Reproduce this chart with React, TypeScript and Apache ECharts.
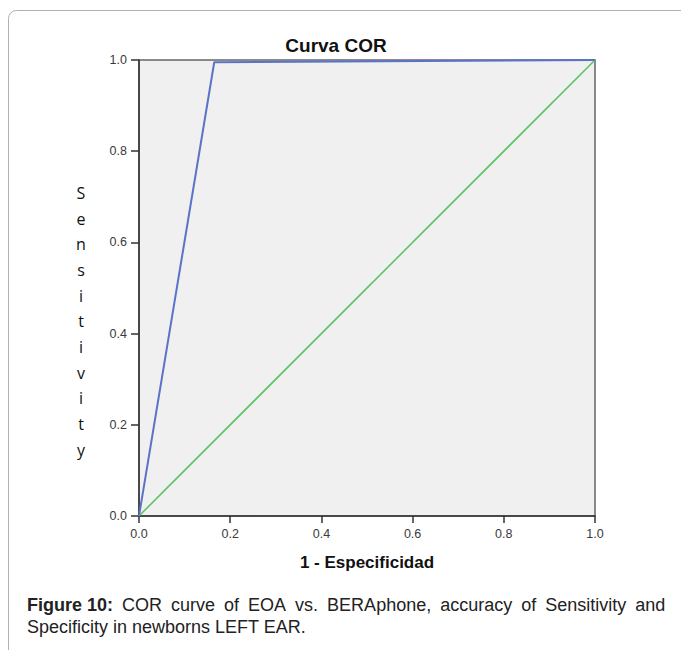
import React, { useEffect, useRef } from "react";
import * as echarts from "echarts";

const rocX = [0, 0.165, 1];
const rocY = [0, 0.995, 1];
const refX = [0, 1];
const refY = [0, 1];
const yTitleLetters = ["S", "e", "n", "s", "i", "t", "i", "v", "i", "t", "y"];
const chartTitle = "Curva COR";
const xTitle = "1 - Especificidad";
const captionBold = "Figure 10:";
const captionLine1Words = ["COR", "curve", "of", "EOA", "vs.", "BERAphone,", "accuracy", "of", "Sensitivity", "and"];
const captionLine2 = "Specificity in newborns LEFT EAR.";

function measure(text: string, font: string): number {
  const c = document.createElement("canvas");
  const ctx = c.getContext("2d");
  if (!ctx) return text.length * 8;
  ctx.font = font;
  return ctx.measureText(text).width;
}

export default function App() {
  const ref = useRef<HTMLDivElement>(null);
  useEffect(() => {
    if (!ref.current) return;
    const chart = echarts.init(ref.current, null, { renderer: "svg" });
    const font = "'Liberation Sans', Arial, sans-serif";
    const capSize = 18;
    const capLeft = 27;
    const capRight = 665;
    const boldW = measure(captionBold, `bold ${capSize}px ${font}`);
    const wordsW = measure(captionLine1Words.join(""), `${capSize}px ${font}`);
    const gaps = captionLine1Words.length;
    const gapW = Math.max(4, (capRight - capLeft - boldW - wordsW) / gaps);
    const line1 =
      "{b|" + captionBold + "}" +
      captionLine1Words.map((w) => "{g| }{n|" + w + "}").join("");

    chart.setOption({
      animation: false,
      backgroundColor: "#ffffff",
      title: {
        text: chartTitle,
        left: 331,
        top: 31,
        textAlign: "center",
        textStyle: { fontFamily: font, fontSize: 19, fontWeight: "bold", color: "#111" },
      },
      grid: {
        left: 139,
        top: 60,
        width: 456,
        height: 456,
        containLabel: false,
        show: true,
        backgroundColor: "#f0f0f0",
        borderColor: "#666",
        borderWidth: 1.5,
      },
      xAxis: {
        type: "value",
        min: 0,
        max: 1,
        interval: 0.2,
        name: xTitle,
        nameLocation: "middle",
        nameGap: 38,
        nameTextStyle: { fontFamily: font, fontSize: 17, fontWeight: "bold", color: "#111" },
        axisLine: { show: true, lineStyle: { color: "#333", width: 1.5 } },
        axisTick: { show: true, inside: false, length: 7, lineStyle: { color: "#333", width: 1.5 } },
        axisLabel: {
          margin: 11,
          fontFamily: font,
          fontSize: 12.5,
          color: "#3a3a3a",
          formatter: (v: number) => v.toFixed(1),
        },
        splitLine: { show: false },
      },
      yAxis: {
        type: "value",
        min: 0,
        max: 1,
        interval: 0.2,
        axisLine: { show: true, lineStyle: { color: "#333", width: 1.5 } },
        axisTick: { show: true, inside: false, length: 8, lineStyle: { color: "#333", width: 1.5 } },
        axisLabel: {
          margin: 12,
          fontFamily: font,
          fontSize: 12.5,
          color: "#3a3a3a",
          formatter: (v: number) => v.toFixed(1),
        },
        splitLine: { show: false },
      },
      series: [
        {
          type: "line",
          data: refX.map((x, i) => [x, refY[i]]),
          showSymbol: false,
          symbol: "none",
          lineStyle: { color: "#5cc462", width: 1.6 },
          z: 2,
        },
        {
          type: "line",
          data: rocX.map((x, i) => [x, rocY[i]]),
          showSymbol: false,
          symbol: "none",
          lineStyle: { color: "#5a73c6", width: 2 },
          z: 3,
        },
      ],
      graphic: [
        {
          type: "line",
          shape: { x1: 8.5, y1: 650, x2: 8.5, y2: 18.5 },
          style: { stroke: "#b0b0b0", lineWidth: 1 },
          silent: true,
        },
        {
          type: "arc",
          shape: { cx: 16.5, cy: 18.5, r: 8, startAngle: Math.PI, endAngle: Math.PI * 1.5 },
          style: { stroke: "#b0b0b0", lineWidth: 1, fill: "none" },
          silent: true,
        },
        {
          type: "line",
          shape: { x1: 16.5, y1: 10.5, x2: 681, y2: 10.5 },
          style: { stroke: "#b0b0b0", lineWidth: 1 },
          silent: true,
        },
        {
          type: "text",
          x: 81,
          y: 180,
          style: {
            text: yTitleLetters.join("\n"),
            fontFamily: "'Open Sans', 'Noto Sans', sans-serif",
            fontSize: 16,
            lineHeight: 25.7,
            align: "center",
            verticalAlign: "top",
            fill: "#111",
          },
        },
        {
          type: "text",
          x: capLeft,
          y: 594,
          style: {
            text: line1 + "\n" + "{n|" + captionLine2 + "}",
            fontFamily: font,
            fontSize: capSize,
            lineHeight: 22,
            fill: "#222",
            rich: {
              b: { fontFamily: font, fontSize: capSize, fontWeight: "bold", fill: "#222", lineHeight: 22 },
              n: { fontFamily: font, fontSize: capSize, fill: "#222", lineHeight: 22 },
              g: { fontFamily: font, fontSize: capSize, width: gapW, lineHeight: 22 },
            },
          },
        },
      ],
    });
    return () => chart.dispose();
  }, []);
  return (
    <div
      ref={ref}
      style={{ position: "absolute", left: 0, top: 0, width: 681, height: 650 }}
    />
  );
}
